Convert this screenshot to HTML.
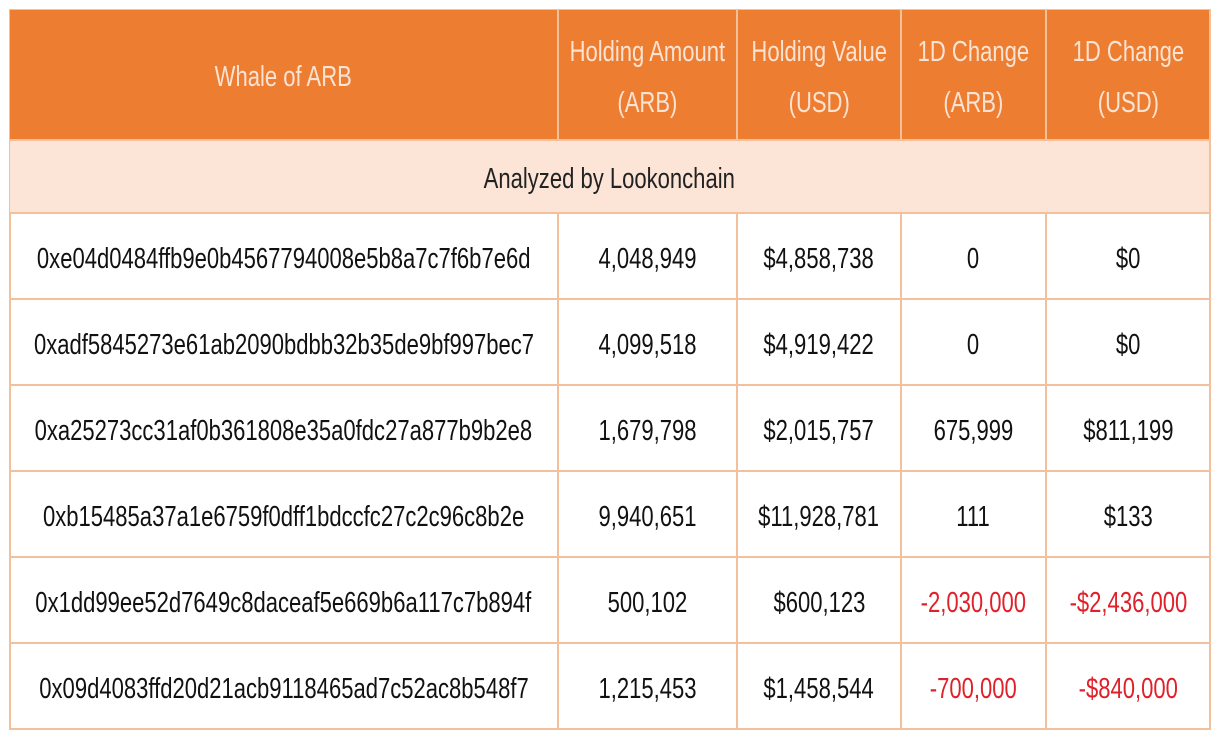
<!DOCTYPE html>
<html><head><meta charset="utf-8"><style>
body{margin:0;width:1220px;height:740px;background:#fff;position:relative;overflow:hidden;font-family:"Liberation Sans",Arial,sans-serif;}
.c{position:absolute;box-sizing:border-box;display:flex;align-items:center;justify-content:center;text-align:center;border-right:2px solid #f2c09a;border-bottom:2px solid #f2c09a;padding-top:6px;}
.t{display:inline-block;transform:scaleX(0.76);white-space:nowrap;font-size:29px;line-height:51px;}
.h{background:#ed7d31;color:#fbe3d3;}
.r{color:#e0202a;}
</style></head><body>
<div style="position:absolute;left:9px;top:9px;width:1202px;height:721px;border-left:2px solid #f2c09a;border-top:2px solid #f2c09a;box-sizing:border-box"></div>
<div class="c h" style="left:10px;top:10px;width:549px;height:131px"><span class="t">Whale of ARB</span></div>
<div class="c h" style="left:559px;top:10px;width:179px;height:131px"><span class="t">Holding Amount<br>(ARB)</span></div>
<div class="c h" style="left:738px;top:10px;width:164px;height:131px"><span class="t">Holding Value<br>(USD)</span></div>
<div class="c h" style="left:902px;top:10px;width:145px;height:131px"><span class="t">1D Change<br>(ARB)</span></div>
<div class="c h" style="left:1047px;top:10px;width:164px;height:131px"><span class="t">1D Change<br>(USD)</span></div>
<div class="c" style="left:10px;top:141px;width:1201px;height:73px;background:#fce4d6;color:#222"><span class="t">Analyzed by Lookonchain</span></div>
<div id="rows"></div>
<script>
var d=[["0xe04d0484ffb9e0b4567794008e5b8a7c7f6b7e6d","4,048,949","$4,858,738","0","$0"],
["0xadf5845273e61ab2090bdbb32b35de9bf997bec7","4,099,518","$4,919,422","0","$0"],
["0xa25273cc31af0b361808e35a0fdc27a877b9b2e8","1,679,798","$2,015,757","675,999","$811,199"],
["0xb15485a37a1e6759f0dff1bdccfc27c2c96c8b2e","9,940,651","$11,928,781","111","$133"],
["0x1dd99ee52d7649c8daceaf5e669b6a117c7b894f","500,102","$600,123","-2,030,000","-$2,436,000"],
["0x09d4083ffd20d21acb9118465ad7c52ac8b548f7","1,215,453","$1,458,544","-700,000","-$840,000"]];
var xs=[10,559,738,902,1047,1211],h="";
d.forEach(function(r,i){var y=214+i*86;r.forEach(function(v,j){var red=i>=4&&j>=3;
h+='<div class="c'+(red?' r':'')+'" style="left:'+xs[j]+'px;top:'+y+'px;width:'+(xs[j+1]-xs[j])+'px;height:86px;'+(red?'':'color:#111')+'"><span class="t">'+v+'</span></div>';});});
document.getElementById('rows').innerHTML=h;
</script>
</body></html>
